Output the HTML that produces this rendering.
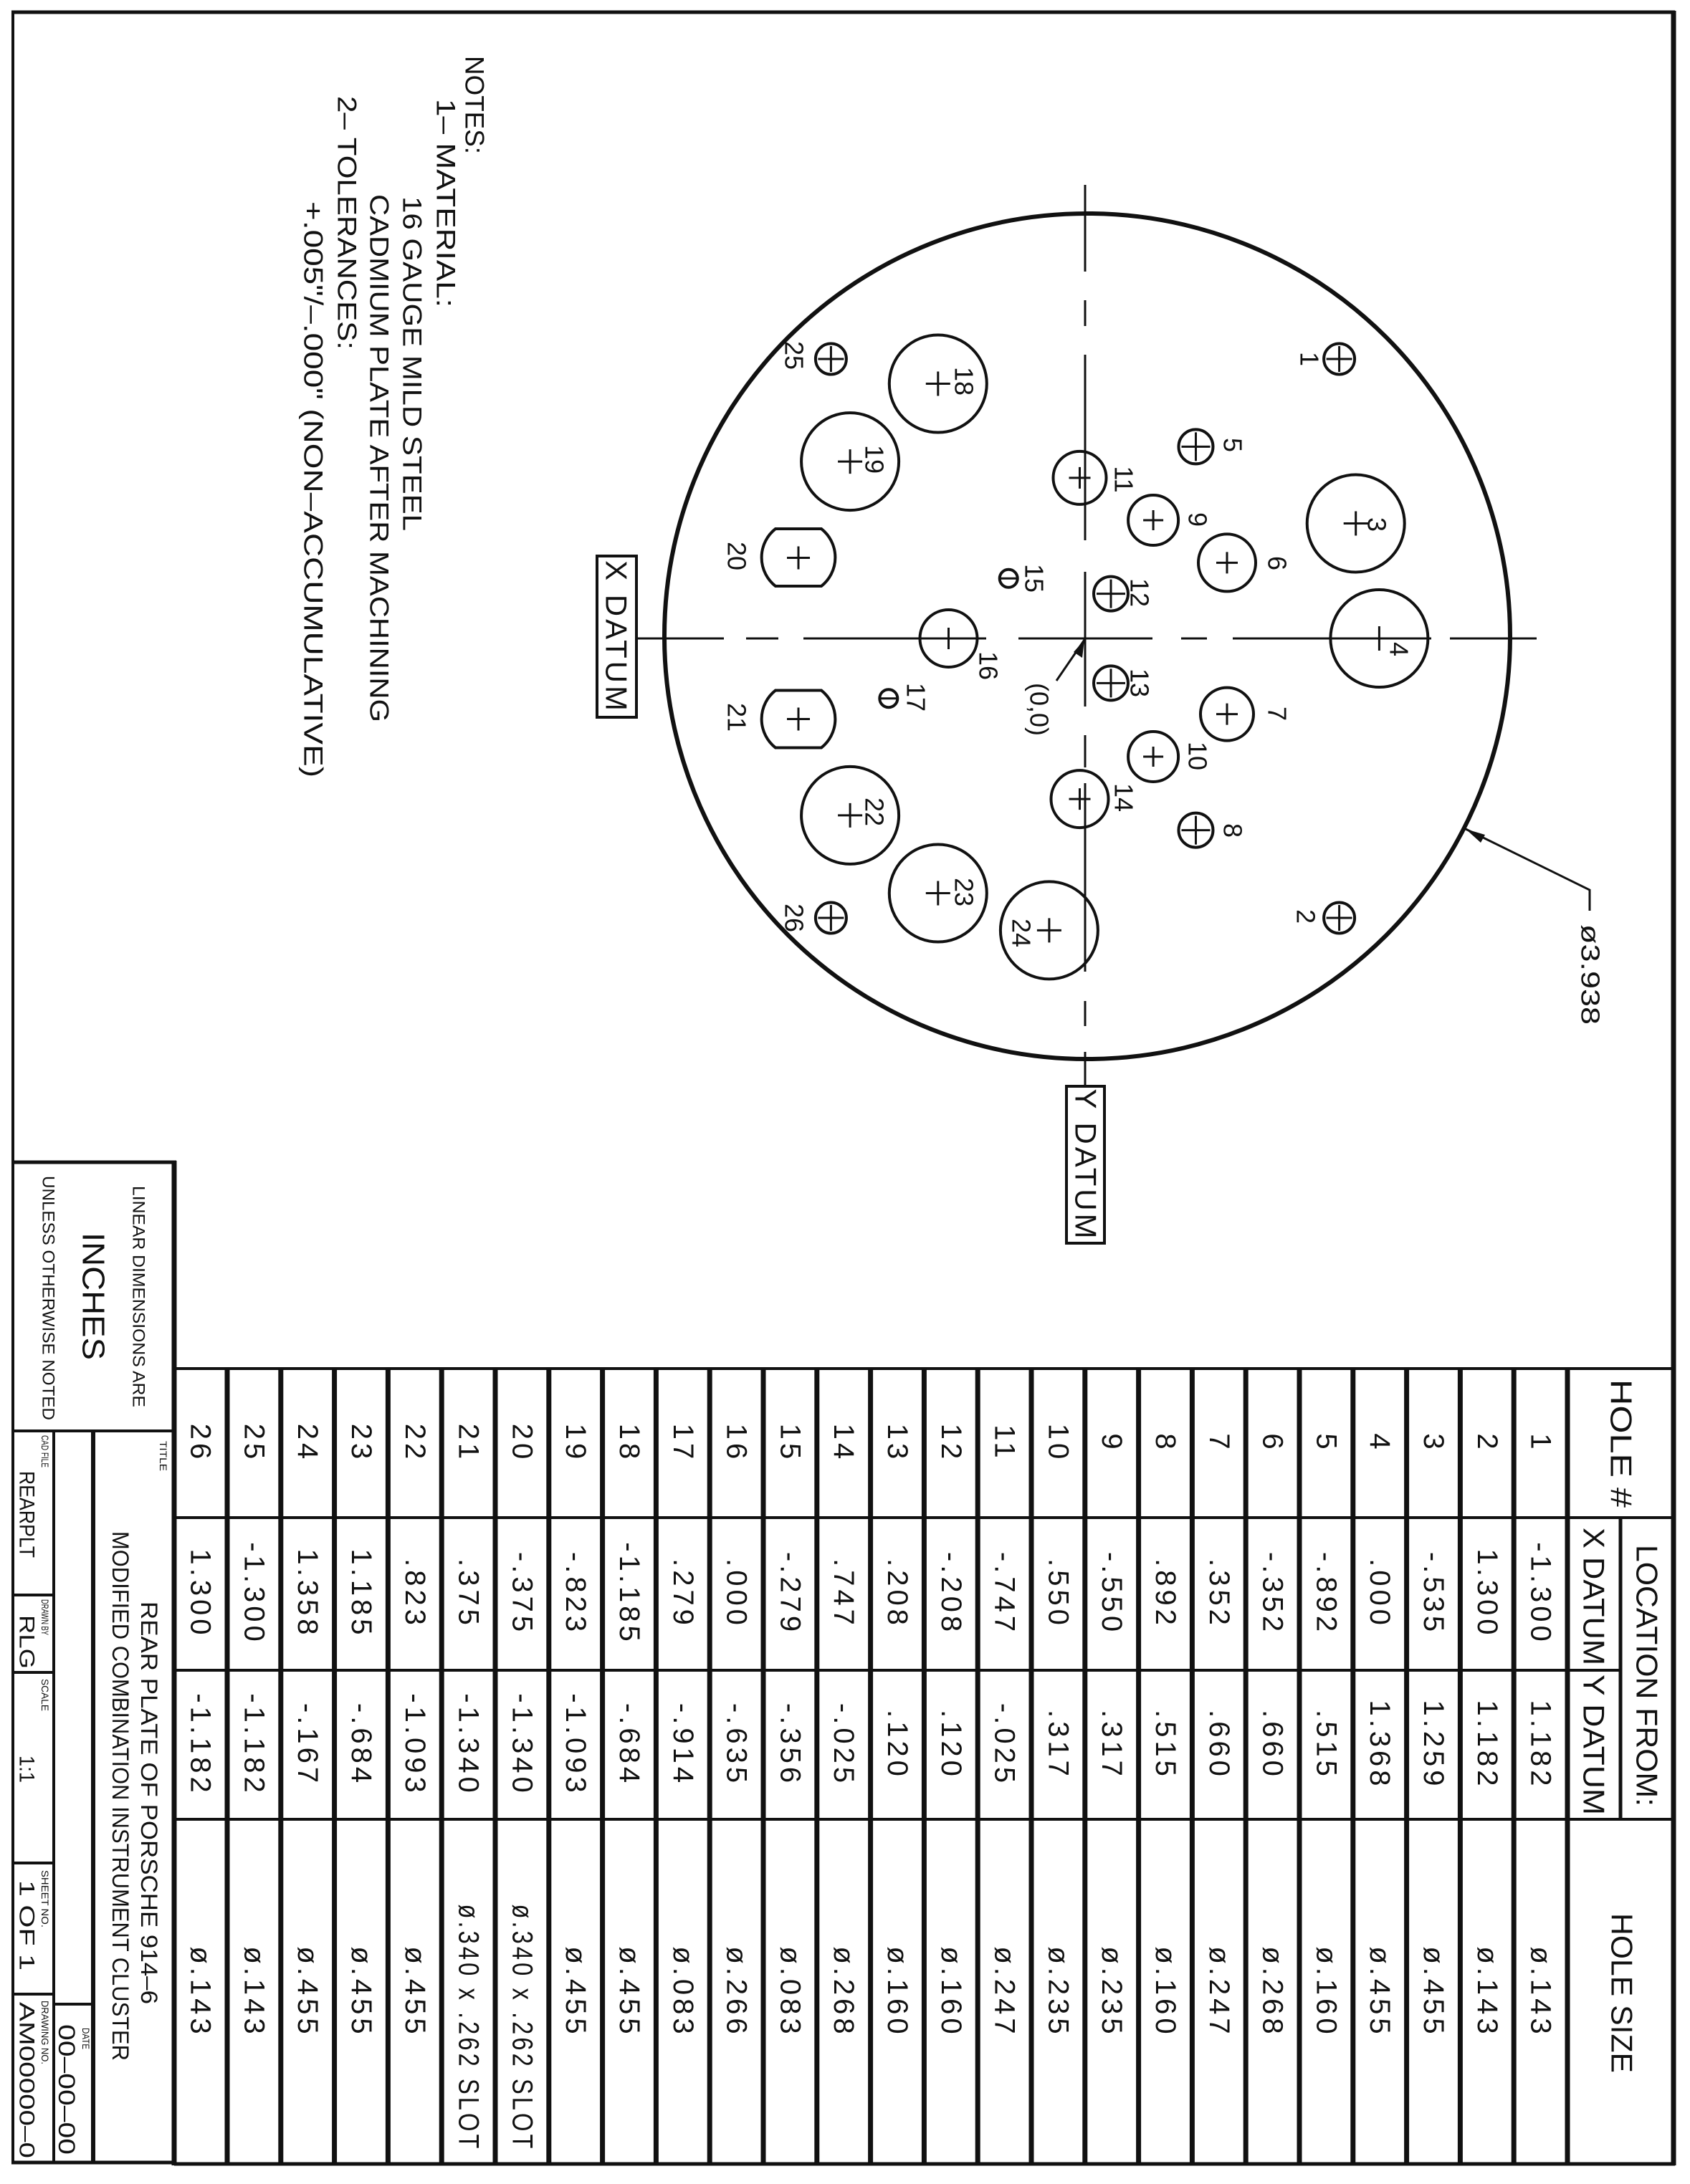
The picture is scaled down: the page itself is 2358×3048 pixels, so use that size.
<!DOCTYPE html>
<html><head><meta charset="utf-8"><style>
html,body{margin:0;padding:0;background:#fff;}
svg{display:block;}
text{font-family:"Liberation Sans",sans-serif;fill:#111;}
.t{font-size:40px;letter-spacing:5px;text-anchor:middle;dominant-baseline:central;}
.h{font-size:42px;letter-spacing:4px;text-anchor:middle;dominant-baseline:central;}
.hs{font-size:42px;dominant-baseline:central;}
.l{font-size:36px;text-anchor:middle;dominant-baseline:central;}
.n{font-size:37px;dominant-baseline:central;}
.s{font-size:14px;dominant-baseline:central;}
</style></head><body>
<svg width="2358" height="3048" viewBox="0 0 2358 3048" xmlns="http://www.w3.org/2000/svg">
<rect width="2358" height="3048" fill="#fff"/>
<!-- frame -->
<g stroke="#111" fill="none">
<line x1="16" y1="17" x2="2337" y2="17" stroke-width="5"/>
<line x1="18" y1="15" x2="18" y2="3020" stroke-width="4"/>
<line x1="2335" y1="15" x2="2335" y2="3022" stroke-width="7"/>
</g>
<!-- notes -->
<g>
<text class="n" transform="translate(662,78) rotate(90)" textLength="137" lengthAdjust="spacingAndGlyphs">NOTES:</text>
<text class="n" transform="translate(622,138) rotate(90)" textLength="291" lengthAdjust="spacingAndGlyphs">1– MATERIAL:</text>
<text class="n" transform="translate(575,274) rotate(90)" textLength="467" lengthAdjust="spacingAndGlyphs">16 GAUGE MILD STEEL</text>
<text class="n" transform="translate(529,271) rotate(90)" textLength="737" lengthAdjust="spacingAndGlyphs">CADMIUM PLATE AFTER MACHINING</text>
<text class="n" transform="translate(484,134) rotate(90)" textLength="354" lengthAdjust="spacingAndGlyphs">2– TOLERANCES:</text>
<text class="n" transform="translate(437,281) rotate(90)" textLength="804" lengthAdjust="spacingAndGlyphs">+.005"/–.000" (NON–ACCUMULATIVE)</text>
</g>
<!-- plate -->
<g stroke="#111" fill="none">
<circle cx="1517" cy="888" r="590" stroke-width="6"/>
<g stroke-width="3">
<line x1="1514" y1="258" x2="1514" y2="379"/>
<line x1="1514" y1="419" x2="1514" y2="455"/>
<line x1="1514" y1="495" x2="1514" y2="754"/>
<line x1="1514" y1="798" x2="1514" y2="986"/>
<line x1="1514" y1="1026" x2="1514" y2="1071"/>
<line x1="1514" y1="1093" x2="1514" y2="1356"/>
<line x1="1514" y1="1397" x2="1514" y2="1432"/>
<line x1="1514" y1="1468" x2="1514" y2="1516"/>
<line x1="888" y1="891" x2="1010" y2="891"/>
<line x1="1041" y1="891" x2="1086" y2="891"/>
<line x1="1121" y1="891" x2="1376" y2="891"/>
<line x1="1421" y1="891" x2="1608" y2="891"/>
<line x1="1648" y1="891" x2="1684" y2="891"/>
<line x1="1720" y1="891" x2="1997" y2="891"/>
<line x1="2023" y1="891" x2="2144" y2="891"/>
</g>
<rect x="833" y="776" width="55" height="225" stroke-width="4"/>
<rect x="1488" y="1516" width="53" height="219" stroke-width="4"/>
<polyline points="2045,1157 2218,1242 2218,1271" stroke-width="3"/>
<polygon points="2045,1157 2072,1165 2066,1176" fill="#111" stroke="none"/>
<line x1="1474" y1="950" x2="1513" y2="893" stroke-width="3"/>
<polygon points="1513,893 1510,918 1498,910" fill="#111" stroke="none"/>
<g stroke-width="4">
<circle cx="1868.6" cy="501" r="21.5"/>
<circle cx="1868.6" cy="1281" r="21.5"/>
<circle cx="1891.7" cy="730.5" r="68"/>
<circle cx="1924.4" cy="891" r="68"/>
<circle cx="1668.5" cy="623.4" r="24"/>
<circle cx="1712" cy="785.4" r="40"/>
<circle cx="1712" cy="996.6" r="37"/>
<circle cx="1668.5" cy="1158.6" r="24"/>
<circle cx="1609.1" cy="726" r="35"/>
<circle cx="1609.1" cy="1056" r="35"/>
<circle cx="1506.5" cy="666.9" r="37"/>
<circle cx="1550" cy="828.6" r="24"/>
<circle cx="1550" cy="953.4" r="24"/>
<circle cx="1506.5" cy="1115.1" r="40"/>
<circle cx="1407.2" cy="807.3" r="12.5"/>
<circle cx="1323.5" cy="891" r="40"/>
<circle cx="1239.8" cy="974.7" r="12.5"/>
<circle cx="1308.8" cy="535.5" r="68"/>
<circle cx="1186.1" cy="644.1" r="68"/>
<circle cx="1186.1" cy="1137.9" r="68"/>
<circle cx="1308.8" cy="1246.5" r="68"/>
<circle cx="1463.9" cy="1298.4" r="68"/>
<circle cx="1159.4" cy="501" r="21.5"/>
<circle cx="1159.4" cy="1281" r="21.5"/>
<path d="M1082,738 L1146,738 A51 51 0 0 1 1146,818 L1082,818 A51 51 0 0 1 1082,738 Z"/>
<path d="M1082,963.5 L1146,963.5 A51 51 0 0 1 1146,1043.5 L1082,1043.5 A51 51 0 0 1 1082,963.5 Z"/>
</g>
<g stroke-width="3">
<path d="M1850.6 501h36M1868.6 483v36"/>
<path d="M1850.6 1281h36M1868.6 1263v36"/>
<path d="M1874.7 730.5h34M1891.7 713.5v34"/>
<path d="M1907.4 891h34M1924.4 874v34"/>
<path d="M1648.5 623.4h40M1668.5 603.4v40"/>
<path d="M1697 785.4h30M1712 770.4v30"/>
<path d="M1697 996.6h30M1712 981.6v30"/>
<path d="M1648.5 1158.6h40M1668.5 1138.6v40"/>
<path d="M1595.1 726h28M1609.1 712v28"/>
<path d="M1595.1 1056h28M1609.1 1042v28"/>
<path d="M1491.5 666.9h30M1506.5 651.9v30"/>
<path d="M1530 828.6h40M1550 808.6v40"/>
<path d="M1530 953.4h40M1550 933.4v40"/>
<path d="M1491.5 1115.1h30M1506.5 1100.1v30"/>
<path d="M1395 807.3h24"/>
<path d="M1308.5 891h30M1323.5 876v30"/>
<path d="M1227.6 974.7h24"/>
<path d="M1291.8 535.5h34M1308.8 518.5v34"/>
<path d="M1169.1 644.1h34M1186.1 627.1v34"/>
<path d="M1169.1 1137.9h34M1186.1 1120.9v34"/>
<path d="M1291.8 1246.5h34M1308.8 1229.5v34"/>
<path d="M1446.9 1298.4h34M1463.9 1281.4v34"/>
<path d="M1141.4 501h36M1159.4 483v36"/>
<path d="M1141.4 1281h36M1159.4 1263v36"/>
<path d="M1098 778.5h32M1114 762.5v32"/>
<path d="M1098 1003.5h32M1114 987.5v32"/>
</g>
</g>
<g>
<text class="l" transform="translate(1827,501) rotate(90)">1</text>
<text class="l" transform="translate(1822,1279) rotate(90)">2</text>
<text class="l" transform="translate(1921,732) rotate(90)">3</text>
<text class="l" transform="translate(1952,906) rotate(90)">4</text>
<text class="l" transform="translate(1720,621) rotate(90)">5</text>
<text class="l" transform="translate(1782,786) rotate(90)">6</text>
<text class="l" transform="translate(1782,996) rotate(90)">7</text>
<text class="l" transform="translate(1720,1159) rotate(90)">8</text>
<text class="l" transform="translate(1671,725) rotate(90)">9</text>
<text class="l" transform="translate(1671,1055) rotate(90)">10</text>
<text class="l" transform="translate(1568,669) rotate(90)">11</text>
<text class="l" transform="translate(1590,827) rotate(90)">12</text>
<text class="l" transform="translate(1590,953) rotate(90)">13</text>
<text class="l" transform="translate(1568,1113) rotate(90)">14</text>
<text class="l" transform="translate(1443,807) rotate(90)">15</text>
<text class="l" transform="translate(1379,929) rotate(90)">16</text>
<text class="l" transform="translate(1278,973) rotate(90)">17</text>
<text class="l" transform="translate(1345,532) rotate(90)">18</text>
<text class="l" transform="translate(1220,641) rotate(90)">19</text>
<text class="l" transform="translate(1028,776) rotate(90)">20</text>
<text class="l" transform="translate(1028,1001) rotate(90)">21</text>
<text class="l" transform="translate(1220,1133) rotate(90)">22</text>
<text class="l" transform="translate(1345,1245) rotate(90)">23</text>
<text class="l" transform="translate(1425,1302) rotate(90)">24</text>
<text class="l" transform="translate(1108,496) rotate(90)">25</text>
<text class="l" transform="translate(1108,1281) rotate(90)">26</text>
<text class="l" transform="translate(1450,990) rotate(90)">(0,0)</text>
<text class="h" transform="translate(860,889) rotate(90)">X DATUM</text>
<text class="h" transform="translate(1515,1626) rotate(90)">Y DATUM</text>
<text class="l" transform="translate(2219,1360) rotate(90)" textLength="140" lengthAdjust="spacingAndGlyphs">ø3.938</text>
</g>
<g stroke="#111" fill="none">
<line x1="243" y1="1910" x2="2337" y2="1910" stroke-width="4"/>
<line x1="243" y1="3020" x2="2337" y2="3020" stroke-width="5"/>
<line x1="243" y1="2118" x2="2337" y2="2118" stroke-width="4"/>
<line x1="243" y1="2331" x2="2261" y2="2331" stroke-width="4"/>
<line x1="243" y1="2539" x2="2337" y2="2539" stroke-width="4"/>
<line x1="2261" y1="2118" x2="2261" y2="2539" stroke-width="5"/>
<g stroke-width="7">
<line x1="2187" y1="1908" x2="2187" y2="3022"/>
<line x1="2112.2" y1="1908" x2="2112.2" y2="3022"/>
<line x1="2037.4" y1="1908" x2="2037.4" y2="3022"/>
<line x1="1962.6" y1="1908" x2="1962.6" y2="3022"/>
<line x1="1887.8" y1="1908" x2="1887.8" y2="3022"/>
<line x1="1813" y1="1908" x2="1813" y2="3022"/>
<line x1="1738.2" y1="1908" x2="1738.2" y2="3022"/>
<line x1="1663.4" y1="1908" x2="1663.4" y2="3022"/>
<line x1="1588.6" y1="1908" x2="1588.6" y2="3022"/>
<line x1="1513.8" y1="1908" x2="1513.8" y2="3022"/>
<line x1="1439" y1="1908" x2="1439" y2="3022"/>
<line x1="1364.2" y1="1908" x2="1364.2" y2="3022"/>
<line x1="1289.4" y1="1908" x2="1289.4" y2="3022"/>
<line x1="1214.6" y1="1908" x2="1214.6" y2="3022"/>
<line x1="1139.8" y1="1908" x2="1139.8" y2="3022"/>
<line x1="1065" y1="1908" x2="1065" y2="3022"/>
<line x1="990.2" y1="1908" x2="990.2" y2="3022"/>
<line x1="915.4" y1="1908" x2="915.4" y2="3022"/>
<line x1="840.6" y1="1908" x2="840.6" y2="3022"/>
<line x1="765.8" y1="1908" x2="765.8" y2="3022"/>
<line x1="691" y1="1908" x2="691" y2="3022"/>
<line x1="616.2" y1="1908" x2="616.2" y2="3022"/>
<line x1="541.4" y1="1908" x2="541.4" y2="3022"/>
<line x1="466.6" y1="1908" x2="466.6" y2="3022"/>
<line x1="391.8" y1="1908" x2="391.8" y2="3022"/>
<line x1="317" y1="1908" x2="317" y2="3022"/>
<line x1="243" y1="1620" x2="243" y2="3022"/>
</g>
<line x1="16" y1="1622" x2="246" y2="1622" stroke-width="5"/>
<line x1="18" y1="1997" x2="243" y2="1997" stroke-width="4"/>
<line x1="16" y1="3018" x2="246" y2="3018" stroke-width="5"/>
<line x1="130" y1="1997" x2="130" y2="3018" stroke-width="6"/>
<line x1="75" y1="1997" x2="75" y2="3018" stroke-width="4"/>
<line x1="75" y1="2797" x2="130" y2="2797" stroke-width="4"/>
<line x1="18" y1="2226" x2="75" y2="2226" stroke-width="4"/>
<line x1="18" y1="2334" x2="75" y2="2334" stroke-width="4"/>
<line x1="18" y1="2600" x2="75" y2="2600" stroke-width="4"/>
<line x1="18" y1="2783" x2="75" y2="2783" stroke-width="4"/>
</g>
<!-- table header text -->
<text class="hs" transform="translate(2262,1925) rotate(90)" textLength="179" lengthAdjust="spacingAndGlyphs">HOLE #</text>
<text class="hs" transform="translate(2298,2156) rotate(90)" textLength="365" lengthAdjust="spacingAndGlyphs">LOCATION FROM:</text>
<text class="hs" transform="translate(2224,2132) rotate(90)" textLength="192" lengthAdjust="spacingAndGlyphs">X DATUM</text>
<text class="hs" transform="translate(2224,2337) rotate(90)" textLength="196" lengthAdjust="spacingAndGlyphs">Y DATUM</text>
<text class="hs" transform="translate(2263,2670) rotate(90)" textLength="223" lengthAdjust="spacingAndGlyphs">HOLE SIZE</text>
<g>
<text class="t" transform="translate(2149.6,2014) rotate(90)">1</text><text class="t" transform="translate(2149.6,2224) rotate(90)">-1.300</text><text class="t" transform="translate(2149.6,2435) rotate(90)">1.182</text><text class="t" transform="translate(2149.6,2780) rotate(90)">ø.143</text>
<text class="t" transform="translate(2074.8,2014) rotate(90)">2</text><text class="t" transform="translate(2074.8,2224) rotate(90)">1.300</text><text class="t" transform="translate(2074.8,2435) rotate(90)">1.182</text><text class="t" transform="translate(2074.8,2780) rotate(90)">ø.143</text>
<text class="t" transform="translate(2000,2014) rotate(90)">3</text><text class="t" transform="translate(2000,2224) rotate(90)">-.535</text><text class="t" transform="translate(2000,2435) rotate(90)">1.259</text><text class="t" transform="translate(2000,2780) rotate(90)">ø.455</text>
<text class="t" transform="translate(1925.2,2014) rotate(90)">4</text><text class="t" transform="translate(1925.2,2224) rotate(90)">.000</text><text class="t" transform="translate(1925.2,2435) rotate(90)">1.368</text><text class="t" transform="translate(1925.2,2780) rotate(90)">ø.455</text>
<text class="t" transform="translate(1850.4,2014) rotate(90)">5</text><text class="t" transform="translate(1850.4,2224) rotate(90)">-.892</text><text class="t" transform="translate(1850.4,2435) rotate(90)">.515</text><text class="t" transform="translate(1850.4,2780) rotate(90)">ø.160</text>
<text class="t" transform="translate(1775.6,2014) rotate(90)">6</text><text class="t" transform="translate(1775.6,2224) rotate(90)">-.352</text><text class="t" transform="translate(1775.6,2435) rotate(90)">.660</text><text class="t" transform="translate(1775.6,2780) rotate(90)">ø.268</text>
<text class="t" transform="translate(1700.8,2014) rotate(90)">7</text><text class="t" transform="translate(1700.8,2224) rotate(90)">.352</text><text class="t" transform="translate(1700.8,2435) rotate(90)">.660</text><text class="t" transform="translate(1700.8,2780) rotate(90)">ø.247</text>
<text class="t" transform="translate(1626,2014) rotate(90)">8</text><text class="t" transform="translate(1626,2224) rotate(90)">.892</text><text class="t" transform="translate(1626,2435) rotate(90)">.515</text><text class="t" transform="translate(1626,2780) rotate(90)">ø.160</text>
<text class="t" transform="translate(1551.2,2014) rotate(90)">9</text><text class="t" transform="translate(1551.2,2224) rotate(90)">-.550</text><text class="t" transform="translate(1551.2,2435) rotate(90)">.317</text><text class="t" transform="translate(1551.2,2780) rotate(90)">ø.235</text>
<text class="t" transform="translate(1476.4,2014) rotate(90)">10</text><text class="t" transform="translate(1476.4,2224) rotate(90)">.550</text><text class="t" transform="translate(1476.4,2435) rotate(90)">.317</text><text class="t" transform="translate(1476.4,2780) rotate(90)">ø.235</text>
<text class="t" transform="translate(1401.6,2014) rotate(90)">11</text><text class="t" transform="translate(1401.6,2224) rotate(90)">-.747</text><text class="t" transform="translate(1401.6,2435) rotate(90)">-.025</text><text class="t" transform="translate(1401.6,2780) rotate(90)">ø.247</text>
<text class="t" transform="translate(1326.8,2014) rotate(90)">12</text><text class="t" transform="translate(1326.8,2224) rotate(90)">-.208</text><text class="t" transform="translate(1326.8,2435) rotate(90)">.120</text><text class="t" transform="translate(1326.8,2780) rotate(90)">ø.160</text>
<text class="t" transform="translate(1252,2014) rotate(90)">13</text><text class="t" transform="translate(1252,2224) rotate(90)">.208</text><text class="t" transform="translate(1252,2435) rotate(90)">.120</text><text class="t" transform="translate(1252,2780) rotate(90)">ø.160</text>
<text class="t" transform="translate(1177.2,2014) rotate(90)">14</text><text class="t" transform="translate(1177.2,2224) rotate(90)">.747</text><text class="t" transform="translate(1177.2,2435) rotate(90)">-.025</text><text class="t" transform="translate(1177.2,2780) rotate(90)">ø.268</text>
<text class="t" transform="translate(1102.4,2014) rotate(90)">15</text><text class="t" transform="translate(1102.4,2224) rotate(90)">-.279</text><text class="t" transform="translate(1102.4,2435) rotate(90)">-.356</text><text class="t" transform="translate(1102.4,2780) rotate(90)">ø.083</text>
<text class="t" transform="translate(1027.6,2014) rotate(90)">16</text><text class="t" transform="translate(1027.6,2224) rotate(90)">.000</text><text class="t" transform="translate(1027.6,2435) rotate(90)">-.635</text><text class="t" transform="translate(1027.6,2780) rotate(90)">ø.266</text>
<text class="t" transform="translate(952.8,2014) rotate(90)">17</text><text class="t" transform="translate(952.8,2224) rotate(90)">.279</text><text class="t" transform="translate(952.8,2435) rotate(90)">-.914</text><text class="t" transform="translate(952.8,2780) rotate(90)">ø.083</text>
<text class="t" transform="translate(878,2014) rotate(90)">18</text><text class="t" transform="translate(878,2224) rotate(90)">-1.185</text><text class="t" transform="translate(878,2435) rotate(90)">-.684</text><text class="t" transform="translate(878,2780) rotate(90)">ø.455</text>
<text class="t" transform="translate(803.2,2014) rotate(90)">19</text><text class="t" transform="translate(803.2,2224) rotate(90)">-.823</text><text class="t" transform="translate(803.2,2435) rotate(90)">-1.093</text><text class="t" transform="translate(803.2,2780) rotate(90)">ø.455</text>
<text class="t" transform="translate(728.4,2014) rotate(90)">20</text><text class="t" transform="translate(728.4,2224) rotate(90)">-.375</text><text class="t" transform="translate(728.4,2435) rotate(90)">-1.340</text><text class="t" transform="translate(728.4,2830) rotate(90)" textLength="345" lengthAdjust="spacingAndGlyphs">ø.340 x .262 SLOT</text>
<text class="t" transform="translate(653.6,2014) rotate(90)">21</text><text class="t" transform="translate(653.6,2224) rotate(90)">.375</text><text class="t" transform="translate(653.6,2435) rotate(90)">-1.340</text><text class="t" transform="translate(653.6,2830) rotate(90)" textLength="345" lengthAdjust="spacingAndGlyphs">ø.340 x .262 SLOT</text>
<text class="t" transform="translate(578.8,2014) rotate(90)">22</text><text class="t" transform="translate(578.8,2224) rotate(90)">.823</text><text class="t" transform="translate(578.8,2435) rotate(90)">-1.093</text><text class="t" transform="translate(578.8,2780) rotate(90)">ø.455</text>
<text class="t" transform="translate(504,2014) rotate(90)">23</text><text class="t" transform="translate(504,2224) rotate(90)">1.185</text><text class="t" transform="translate(504,2435) rotate(90)">-.684</text><text class="t" transform="translate(504,2780) rotate(90)">ø.455</text>
<text class="t" transform="translate(429.2,2014) rotate(90)">24</text><text class="t" transform="translate(429.2,2224) rotate(90)">1.358</text><text class="t" transform="translate(429.2,2435) rotate(90)">-.167</text><text class="t" transform="translate(429.2,2780) rotate(90)">ø.455</text>
<text class="t" transform="translate(354.4,2014) rotate(90)">25</text><text class="t" transform="translate(354.4,2224) rotate(90)">-1.300</text><text class="t" transform="translate(354.4,2435) rotate(90)">-1.182</text><text class="t" transform="translate(354.4,2780) rotate(90)">ø.143</text>
<text class="t" transform="translate(279.6,2014) rotate(90)">26</text><text class="t" transform="translate(279.6,2224) rotate(90)">1.300</text><text class="t" transform="translate(279.6,2435) rotate(90)">-1.182</text><text class="t" transform="translate(279.6,2780) rotate(90)">ø.143</text>
</g>
<g>
<text class="n" style="font-size:24px" transform="translate(193,1655) rotate(90)" textLength="309" lengthAdjust="spacingAndGlyphs">LINEAR DIMENSIONS ARE</text>
<text class="n" style="font-size:44px" transform="translate(130,1720) rotate(90)" textLength="178" lengthAdjust="spacingAndGlyphs">INCHES</text>
<text class="n" style="font-size:24px" transform="translate(67,1641) rotate(90)" textLength="341" lengthAdjust="spacingAndGlyphs">UNLESS OTHERWISE NOTED</text>
<text class="s" transform="translate(228,2011) rotate(90)" textLength="42" lengthAdjust="spacingAndGlyphs">TITLE</text>
<text class="n" style="font-size:32px" transform="translate(208,2235) rotate(90)" textLength="562" lengthAdjust="spacingAndGlyphs">REAR PLATE OF PORSCHE 914–6</text>
<text class="n" style="font-size:32px" transform="translate(168,2137) rotate(90)" textLength="739" lengthAdjust="spacingAndGlyphs">MODIFIED COMBINATION INSTRUMENT CLUSTER</text>
<text class="s" transform="translate(120,2830) rotate(90)" textLength="30" lengthAdjust="spacingAndGlyphs">DATE</text>
<text class="n" style="font-size:32px" transform="translate(93,2825) rotate(90)" textLength="182" lengthAdjust="spacingAndGlyphs">00–00–00</text>
<text class="s" transform="translate(63,2003) rotate(90)" textLength="45" lengthAdjust="spacingAndGlyphs">CAD FILE</text>
<text class="n" style="font-size:30px" transform="translate(37,2053) rotate(90)" textLength="121" lengthAdjust="spacingAndGlyphs">REARPLT</text>
<text class="s" transform="translate(63,2232) rotate(90)" textLength="50" lengthAdjust="spacingAndGlyphs">DRAWN BY</text>
<text class="n" style="font-size:30px" transform="translate(37,2254) rotate(90)" textLength="75" lengthAdjust="spacingAndGlyphs">RLG</text>
<text class="s" transform="translate(63,2343) rotate(90)" textLength="45" lengthAdjust="spacingAndGlyphs">SCALE</text>
<text class="n" style="font-size:30px" transform="translate(37,2450) rotate(90)" textLength="38" lengthAdjust="spacingAndGlyphs">1:1</text>
<text class="s" transform="translate(63,2610) rotate(90)" textLength="80" lengthAdjust="spacingAndGlyphs">SHEET NO.</text>
<text class="n" style="font-size:30px" transform="translate(37,2624) rotate(90)" textLength="126" lengthAdjust="spacingAndGlyphs">1 OF 1</text>
<text class="s" transform="translate(63,2792) rotate(90)" textLength="89" lengthAdjust="spacingAndGlyphs">DRAWING NO.</text>
<text class="n" style="font-size:30px" transform="translate(37,2794) rotate(90)" textLength="218" lengthAdjust="spacingAndGlyphs">AM00000–0</text>
</g>
</svg>
</body></html>
